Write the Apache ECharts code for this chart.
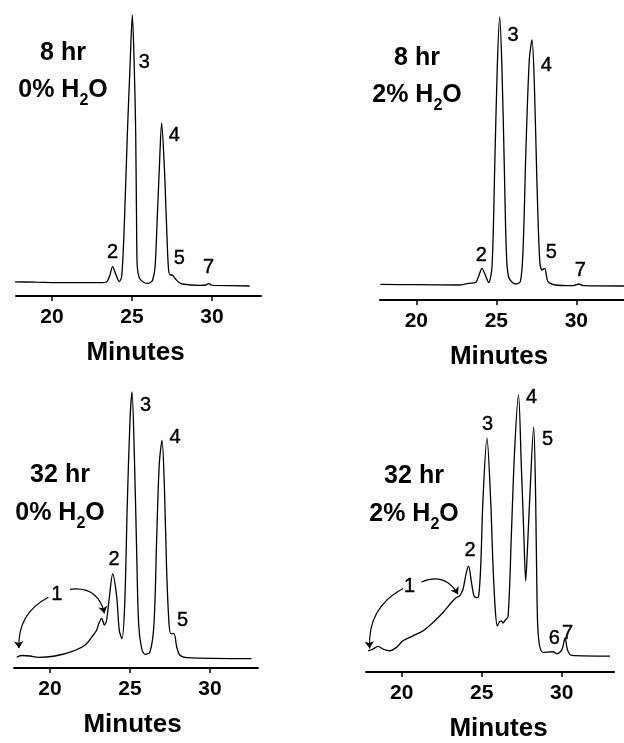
<!DOCTYPE html>
<html>

<head>
    <meta charset="utf-8">
    <title>ECharts</title>
    <script src="https://cdn.jsdelivr.net/npm/echarts@6/dist/echarts.min.js"></script>
</head>

<body style="margin:0;background:#fff;">
    <div id="main" style="width: 624px;height:743px;"></div>
    <script type="text/javascript">
        // tick values on every time axis
        var tickMinutes = [20, 25, 30];

        // traces: [minutes, detector response]
        var trace8h0 = [[17.44, 14.3], [19, 13.8], [21, 13.3], [23, 13.3], [23.42, 14.3], [23.6, 20], [23.79, 29.3], [23.98, 22], [24.2, 14.5], [24.35, 19], [24.5, 63], [24.71, 163], [24.875, 229], [25.02, 281], [25.14, 229], [25.23, 163], [25.29, 63], [25.33, 29], [25.46, 18], [25.7, 14], [25.94, 12.7], [26.15, 13.5], [26.29, 16], [26.44, 29], [26.58, 79], [26.71, 129], [26.85, 173], [27.02, 129], [27.14, 79], [27.27, 29], [27.375, 21], [27.5, 21], [27.58, 20], [27.72, 17], [27.9, 14], [28.125, 12], [29.27, 10.7], [29.6, 11], [29.79, 12.3], [29.95, 11], [30.1, 10.7], [32.35, 10]];
        var trace8h2 = [[17.75, 15.7], [20, 15.3], [22.65, 15], [23.27, 16.7], [23.69, 17.3], [23.9, 24], [24.1, 31.7], [24.31, 25], [24.52, 17.3], [24.73, 33], [24.9, 133], [25.06, 233], [25.21, 283], [25.35, 233], [25.5, 133], [25.625, 50], [25.77, 23], [26.19, 16], [26.5, 18.3], [26.67, 50], [26.85, 150], [27.06, 240], [27.23, 260], [27.375, 216.7], [27.54, 116.7], [27.71, 40], [27.85, 30], [28.02, 31.7], [28.23, 18.3], [28.69, 15], [29.73, 14.3], [29.95, 15], [30.15, 16], [30.46, 14.3], [32.98, 14]];
        var trace32h0 = [[17.92, 10.7], [18.2, 12.5], [18.75, 12], [19.27, 10.7], [20.31, 12], [21.35, 16.3], [22.19, 23], [22.71, 33], [22.92, 38], [23.06, 44.7], [23.23, 49.7], [23.4, 43], [23.54, 48], [23.69, 68], [23.92, 94], [24.17, 71], [24.33, 37.7], [24.5, 29.3], [24.67, 64], [24.83, 164], [25.0, 247.7], [25.125, 276], [25.27, 214], [25.42, 114], [25.54, 44], [25.73, 19.3], [25.94, 13.7], [26.25, 16], [26.5, 44], [26.67, 131], [26.83, 204], [27.0, 227.7], [27.15, 181], [27.29, 97.7], [27.44, 44], [27.56, 34.3], [27.75, 34.3], [27.92, 21], [28.125, 12.7], [28.54, 10.3], [32.6, 9.3]];
        var trace32h2 = [[17.9, 21.3], [18.21, 23], [18.52, 25.7], [18.83, 23], [19.25, 21.3], [19.67, 24.7], [20.08, 31.3], [20.71, 36.3], [21.33, 41.3], [21.96, 49.7], [22.58, 59.7], [23.1, 69.7], [23.42, 74.7], [23.625, 76.3], [23.83, 83], [24.04, 99.7], [24.18, 106.3], [24.36, 90], [24.52, 76.5], [24.67, 74.7], [24.81, 76], [24.94, 106], [25.08, 173], [25.33, 234.7], [25.56, 173], [25.71, 106], [25.86, 60], [25.98, 46.3], [26.1, 50], [26.23, 51.3], [26.33, 49], [26.44, 51.3], [26.65, 56], [26.86, 140], [27.06, 223], [27.3, 278], [27.48, 206], [27.63, 140], [27.75, 91.3], [27.85, 120], [28.0, 173], [28.25, 246], [28.375, 173], [28.46, 73], [28.56, 33], [28.83, 19.7], [29.46, 20.3], [29.69, 18.3], [29.9, 20], [30.04, 23.3], [30.21, 34], [30.375, 21.7], [30.625, 16.7], [33.02, 16]];

        // peak numbers: [minutes, response, label]
        var peaks8h0 = [[23.79, 44, '2'], [25.77, 234, '3'], [27.65, 161, '4'], [27.96, 38, '5'], [29.79, 29, '7']];
        var peaks8h2 = [[24.06, 45, '2'], [26.04, 265, '3'], [28.125, 235, '4'], [28.44, 48, '5'], [30.25, 30, '7']];
        var peaks32h0 = [[20.42, 74, '1'], [24.0, 109, '2'], [25.98, 262.7, '3'], [27.81, 231, '4'], [28.29, 47.7, '5']];
        var peaks32h2 = [[20.5, 86.3, '1'], [24.27, 121.7, '2'], [25.375, 248, '3'], [28.125, 275, '4'], [29.125, 233, '5'], [29.54, 33.3, '6'], [30.375, 38.3, '7']];

        // arrows from label "1": [from, to]
        var arrows32h0 = [[[19.9, 70.7], [18.06, 19.7]], [[21.25, 78.7], [23.4, 54.7]]];
        var arrows32h2 = [[[20.08, 83.7], [18.0, 23.7]], [[21.23, 90.3], [23.52, 78]]];

        // condition captions
        var captionTimes = ['8 hr', '8 hr', '32 hr', '32 hr'];
        var captionWater = ['0%', '2%', '0%', '2%'];

        var myChart = echarts.init(document.getElementById('main'));
        var font = "'Liberation Sans', Arial, sans-serif";
        var ink = '#000';

        var panels = [
            { trace: trace8h0, peaks: peaks8h0, arrows: [], grid: { left: 16, top: 6, width: 245 }, range: [17.75, 33.06], cap: [63, 53, 90], nameShift: -3 },
            { trace: trace8h2, peaks: peaks8h2, arrows: [], grid: { left: 380, top: 10, width: 244 }, range: [17.73, 32.98], cap: [417, 58, 95], nameShift: -3 },
            { trace: trace32h0, peaks: peaks32h0, arrows: arrows32h0, grid: { left: 14, top: 378, width: 244 }, range: [17.75, 33.0], cap: [60, 475, 513], nameShift: -3.5 },
            { trace: trace32h2, peaks: peaks32h2, arrows: arrows32h2, grid: { left: 366, top: 383, width: 248 }, range: [17.77, 33.27], cap: [414, 476, 514], nameShift: 8.5 }
        ];
        var bends = [-0.32, 0.45];

        var grids = [], xAxes = [], yAxes = [], series = [], graphics = [];
        panels.forEach(function (p, i) {
            grids.push({ left: p.grid.left, top: p.grid.top, width: p.grid.width, height: 290 });
            var s = p.nameShift;
            xAxes.push({
                gridIndex: i,
                type: 'value',
                min: p.range[0],
                max: p.range[1],
                name: 'Minutes',
                nameLocation: 'middle',
                nameGap: 44,
                nameTextStyle: {
                    fontFamily: font, fontSize: 26, fontWeight: 'bold', color: ink,
                    padding: [0, s < 0 ? -2 * s : 0, 0, s > 0 ? 2 * s : 0]
                },
                axisLine: { onZero: false, lineStyle: { color: ink, width: 2 } },
                axisTick: { customValues: tickMinutes, length: 5, lineStyle: { color: ink, width: 1.5 } },
                axisLabel: { customValues: tickMinutes, margin: 11, fontFamily: font, fontSize: 21, fontWeight: 'bold', color: ink },
                splitLine: { show: false }
            });
            yAxes.push({ gridIndex: i, type: 'value', min: 0, max: 290, show: false });
            series.push({
                type: 'line',
                xAxisIndex: i,
                yAxisIndex: i,
                data: p.trace,
                showSymbol: false,
                smooth: 0.3,
                clip: false,
                lineStyle: { color: ink, width: 1.3 }
            });
            series.push({
                type: 'scatter',
                xAxisIndex: i,
                yAxisIndex: i,
                data: p.peaks,
                symbolSize: 1,
                itemStyle: { color: 'transparent', opacity: 1 },
                label: {
                    show: true,
                    position: 'inside',
                    formatter: function (q) { return q.value[2]; },
                    fontFamily: font,
                    fontSize: 20,
                    color: ink,
                    opacity: 1,
                    textBorderColor: ink,
                    textBorderWidth: 0.4
                }
            });
            if (p.arrows.length) {
                series.push({
                    type: 'lines',
                    coordinateSystem: 'cartesian2d',
                    xAxisIndex: i,
                    yAxisIndex: i,
                    silent: true,
                    symbol: ['none', 'arrow'],
                    symbolSize: 7,
                    lineStyle: { color: ink, width: 1.2, opacity: 1 },
                    data: p.arrows.map(function (a, k) {
                        return { coords: a, lineStyle: { curveness: bends[k] } };
                    })
                });
            }
            graphics.push({
                type: 'text',
                x: p.cap[0],
                y: p.cap[1],
                style: { text: captionTimes[i], fontFamily: font, fontSize: 25, fontWeight: 'bold', fill: ink, align: 'center', verticalAlign: 'middle' }
            });
            graphics.push({
                type: 'text',
                x: p.cap[0],
                y: p.cap[2] - 12.5,
                style: {
                    text: '{m|' + captionWater[i] + ' H}{s|2}{m|O}',
                    fontFamily: font,
                    fill: ink,
                    align: 'center',
                    verticalAlign: 'top',
                    rich: {
                        m: { fontFamily: font, fontSize: 25, fontWeight: 'bold', lineHeight: 25, verticalAlign: 'top', fill: ink },
                        s: { fontFamily: font, fontSize: 16, fontWeight: 'bold', lineHeight: 31, verticalAlign: 'bottom', fill: ink }
                    }
                }
            });
        });

        var option = {
            animation: false,
            backgroundColor: '#fff',
            grid: grids,
            xAxis: xAxes,
            yAxis: yAxes,
            series: series,
            graphic: graphics
        };

        myChart.setOption(option);
    </script>
</body>

</html>
